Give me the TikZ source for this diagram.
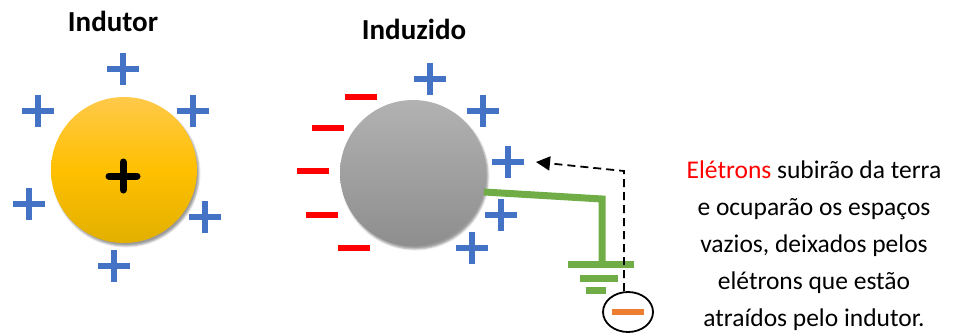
\documentclass[tikz,border=0pt]{standalone}
\usepackage{fontspec}
\setmainfont{Carlito}
\usetikzlibrary{arrows.meta,shapes.geometric,shadows.blur}

\definecolor{plusblue}{HTML}{4472C4}
\definecolor{minusred}{HTML}{FF0000}
\definecolor{wiregreen}{HTML}{70AD47}
\definecolor{elecorange}{HTML}{ED7D31}
\definecolor{goldtop}{HTML}{FFC94A}
\definecolor{goldmid}{HTML}{FFC000}
\definecolor{goldbot}{HTML}{E2B000}
\definecolor{graytop}{HTML}{B2B2B2}
\definecolor{graybot}{HTML}{8E8E8E}

\tikzset{
    pics/plus/.style = {code = {
        \draw[line width=5.5pt, #1] (-16,0) -- (16,0) (0,-16) -- (0,16);
    }},
    pics/plus/.default = plusblue,
    pics/minus/.style = {code = {
        \draw[line width=5.5pt, #1] (-16,0) -- (16,0);
    }},
    pics/minus/.default = minusred
}

\begin{document}
\begin{tikzpicture}[
            x = 1pt, y = -1pt, % pixel units, y going down
            > = {Triangle[length=14pt, width=14pt]},
            semithick
        ]

        \tikzstyle{ball}=[
            circle,
            minimum size = 146pt,
            inner sep = 0pt,
            blur shadow = {shadow xshift=2pt, shadow yshift=-3pt}
        ]
        \tikzstyle{title}=[font=\fontsize{29}{33}\selectfont\bfseries]
        \tikzstyle{wire}=[draw=wiregreen, line width=7pt]

        \useasboundingbox (0,0) rectangle (965,335);

        % inductor
        \node[title] (tindutor) at (113,21) {Indutor};
        \node[ball, top color=goldtop, bottom color=goldbot, middle color=goldmid] (indutor) at (124,170) {};
        \draw[line width=7pt, line cap=round] (109,176) -- (137,176) (123,162) -- (123,190);
        \pic at (123,69) {plus};
        \pic at (38,111) {plus};
        \pic at (193,111) {plus};
        \pic at (29,204) {plus};
        \pic at (205,217) {plus};
        \pic at (114,266) {plus};

        % induced sphere
        \node[title] (tinduzido) at (414,29) {Induzido};
        \node[ball, top color=graytop, bottom color=graybot] (induzido) at (413,173) {};
        \pic at (361,97) {minus};
        \pic at (328,128) {minus};
        \pic at (313,171) {minus};
        \pic at (322,215) {minus};
        \pic at (354,248) {minus};
        \pic at (430,79) {plus};
        \pic at (483,111) {plus};
        \pic at (508,162) {plus};
        \pic at (501,215) {plus};
        \pic at (472,248) {plus};

        % ground
        \coordinate (bend) at (602,199);
        \coordinate (gnd) at (602,263);
        \draw[wire] (induzido.-15) -- (bend) -- (gnd);
        \draw[wire] (568,264) -- (634,264);
        \draw[wire] (580,278) -- (618,278);
        \draw[wire] (586,290) -- (606,290);

        % electron coming up
        \node[ellipse, draw, line width=1.8pt, minimum width=50pt, minimum height=40pt] (eletron) at (628,312) {};
        \pic at (eletron.center) {minus=elecorange};
        \coordinate (corner) at (624,171);
        \coordinate (target) at (536,162);
        \draw[->, line width=1.8pt, dash pattern=on 8pt off 5pt] (eletron.north -| corner) -- (corner) -- (target);

        \node[font=\fontsize{25.5}{37}\selectfont, align=center] (texto) at (814,246)
            {\textcolor{red}{Elétrons} subirão da terra\\ e ocuparão os espaços\\ vazios, deixados pelos\\ elétrons que estão\\ atraídos pelo indutor.};

    \end{tikzpicture}
\end{document}
